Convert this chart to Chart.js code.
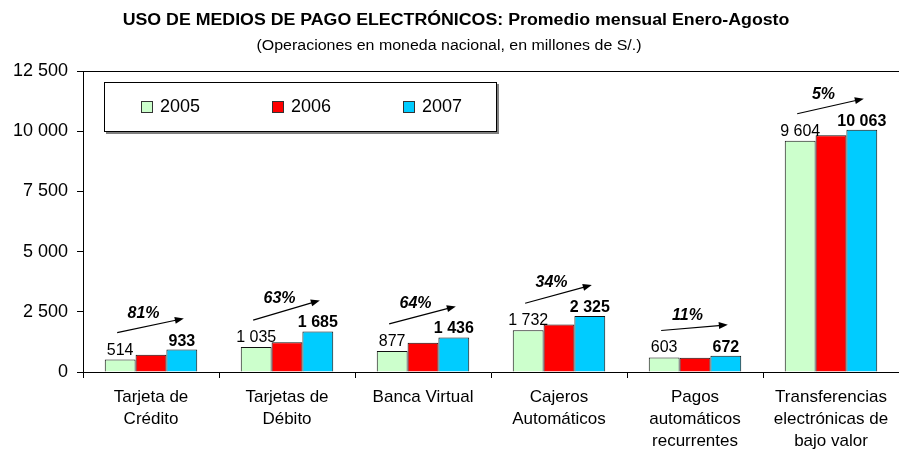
<!DOCTYPE html>
<html>
<head>
<meta charset="utf-8">
<script src="https://cdn.jsdelivr.net/npm/chart.js@4.4.1/dist/chart.umd.min.js"></script>
<style>
  html, body { margin: 0; padding: 0; background: #fff; }
  #wrap { width: 899px; height: 457px; }
</style>
</head>
<body>
<div id="wrap"><canvas id="chart" width="899" height="457"></canvas></div>
<script>
const categories = [
  ["Tarjeta de", "Crédito"],
  ["Tarjetas de", "Débito"],
  ["Banca Virtual"],
  ["Cajeros", "Automáticos"],
  ["Pagos", "automáticos", "recurrentes"],
  ["Transferencias", "electrónicas de", "bajo valor"],
];
const years = ["2005", "2006", "2007"];
const values2005 = [514, 1035, 877, 1732, 603, 9604];
const values2006 = [720, 1235, 1215, 1975, 595, 9830];
const values2007 = [933, 1685, 1436, 2325, 672, 10063];
const growth = ["81%", "63%", "64%", "34%", "11%", "5%"];
const yTicks = [0, 2500, 5000, 7500, 10000, 12500];

const colors = ["#CCFFCC", "#FF0000", "#00CCFF"];
const FONT = "'Liberation Sans', Arial, sans-serif";

const fmt = (n) => String(n).replace(/\B(?=(\d{3})+(?!\d))/g, " ");

// text drawn a bit wider than normal, like the original export
function wideText(ctx, text, x, y, sx) {
  ctx.save();
  ctx.translate(x, y);
  ctx.scale(sx, 1);
  ctx.fillText(text, 0, 0);
  ctx.restore();
}

const decorations = {
  id: "decorations",
  afterDatasetsDraw(chart) {
    const ctx = chart.ctx;
    const area = chart.chartArea;

    // top frame line
    ctx.save();
    ctx.strokeStyle = "#000";
    ctx.lineWidth = 1;
    ctx.beginPath();
    ctx.moveTo(area.left, area.top + 0.5);
    ctx.lineTo(area.right, area.top + 0.5);
    ctx.stroke();

    const m05 = chart.getDatasetMeta(0).data;
    const m07 = chart.getDatasetMeta(2).data;

    // value labels
    ctx.fillStyle = "#000";
    ctx.textAlign = "center";
    ctx.textBaseline = "alphabetic";
    m05.forEach((bar, i) => {
      ctx.font = "16px " + FONT;
      ctx.fillText(fmt(values2005[i]), bar.x, bar.y - 5);
    });
    m07.forEach((bar, i) => {
      ctx.font = "bold 16px " + FONT;
      ctx.fillText(fmt(values2007[i]), bar.x, bar.y - 4);
    });

    // growth arrows
    m05.forEach((g, i) => {
      const b = m07[i];
      const x1 = g.x - 3, y1 = g.y - 27;
      const x2 = b.x + 2, y2 = b.y - 31;
      const ang = Math.atan2(y2 - y1, x2 - x1);
      ctx.strokeStyle = "#000";
      ctx.lineWidth = 1.2;
      ctx.beginPath();
      ctx.moveTo(x1, y1);
      ctx.lineTo(x2 - 6 * Math.cos(ang), y2 - 6 * Math.sin(ang));
      ctx.stroke();
      ctx.beginPath();
      ctx.moveTo(x2, y2);
      ctx.lineTo(x2 - 9 * Math.cos(ang) + 3.5 * Math.sin(ang), y2 - 9 * Math.sin(ang) - 3.5 * Math.cos(ang));
      ctx.lineTo(x2 - 9 * Math.cos(ang) - 3.5 * Math.sin(ang), y2 - 9 * Math.sin(ang) + 3.5 * Math.cos(ang));
      ctx.closePath();
      ctx.fill();

      ctx.font = "italic bold 16px " + FONT;
      ctx.textBaseline = "middle";
      ctx.fillText(growth[i], (x1 + x2) / 2 - 7, (y1 + y2) / 2 - 12);
      ctx.textBaseline = "alphabetic";
    });

    // legend box
    const lx = area.left + 21, ly = area.top + 11, lw = 393, lh = 50;
    ctx.fillStyle = "#808080";
    ctx.fillRect(lx + 2, ly + 2, lw, lh);
    ctx.fillStyle = "#fff";
    ctx.fillRect(lx, ly, lw, lh);
    ctx.strokeStyle = "#000";
    ctx.lineWidth = 1;
    ctx.strokeRect(lx + 0.5, ly + 0.5, lw - 1, lh - 1);
    ctx.font = "18px " + FONT;
    ctx.textAlign = "left";
    ctx.textBaseline = "middle";
    years.forEach((yr, i) => {
      const sx = lx + 37 + i * 131, sy = ly + 19;
      ctx.fillStyle = colors[i];
      ctx.fillRect(sx, sy, 12, 12);
      ctx.strokeStyle = "#333";
      ctx.strokeRect(sx + 0.5, sy + 0.5, 11, 11);
      ctx.fillStyle = "#000";
      ctx.fillText(yr, sx + 19, sy + 6.5);
    });

    // titles
    ctx.textAlign = "center";
    ctx.font = "bold 16px " + FONT;
    wideText(ctx, "USO DE MEDIOS DE PAGO ELECTRÓNICOS: Promedio mensual Enero-Agosto", 456, 21, 1.11);
    ctx.font = "14px " + FONT;
    wideText(ctx, "(Operaciones en moneda nacional, en millones de S/.)", 449, 46, 1.14);
    ctx.restore();
  },
};

new Chart(document.getElementById("chart"), {
  type: "bar",
  data: {
    labels: categories,
    datasets: years.map((yr, i) => ({
      label: yr,
      data: [values2005, values2006, values2007][i],
      backgroundColor: colors[i],
      borderColor: "#111",
      borderWidth: 1,
      categoryPercentage: 0.68,
      barPercentage: 1.0,
    })),
  },
  options: {
    responsive: false,
    animation: false,
    layout: { padding: { left: 12, top: 71, right: 0, bottom: 0 } },
    plugins: {
      legend: { display: false },
      tooltip: { enabled: false },
    },
    scales: {
      x: {
        grid: { drawOnChartArea: false, tickLength: 6, color: "#000", offset: true },
        border: { color: "#000" },
        ticks: { color: "#000", padding: 8, font: { family: FONT, size: 17, lineHeight: 1.3 }, maxRotation: 0, autoSkip: false },
        afterFit: (s) => { s.height = 85; },
      },
      y: {
        min: 0,
        max: 12500,
        afterBuildTicks: (s) => { s.ticks = yTicks.map((v) => ({ value: v })); },
        grid: { drawOnChartArea: false, tickLength: 6, color: "#000" },
        border: { color: "#000" },
        ticks: { color: "#000", padding: 9, font: { family: FONT, size: 18 }, callback: (v) => fmt(v) },
        afterFit: (s) => { s.width = 71; },
      },
    },
  },
  plugins: [decorations],
});
</script>
</body>
</html>
